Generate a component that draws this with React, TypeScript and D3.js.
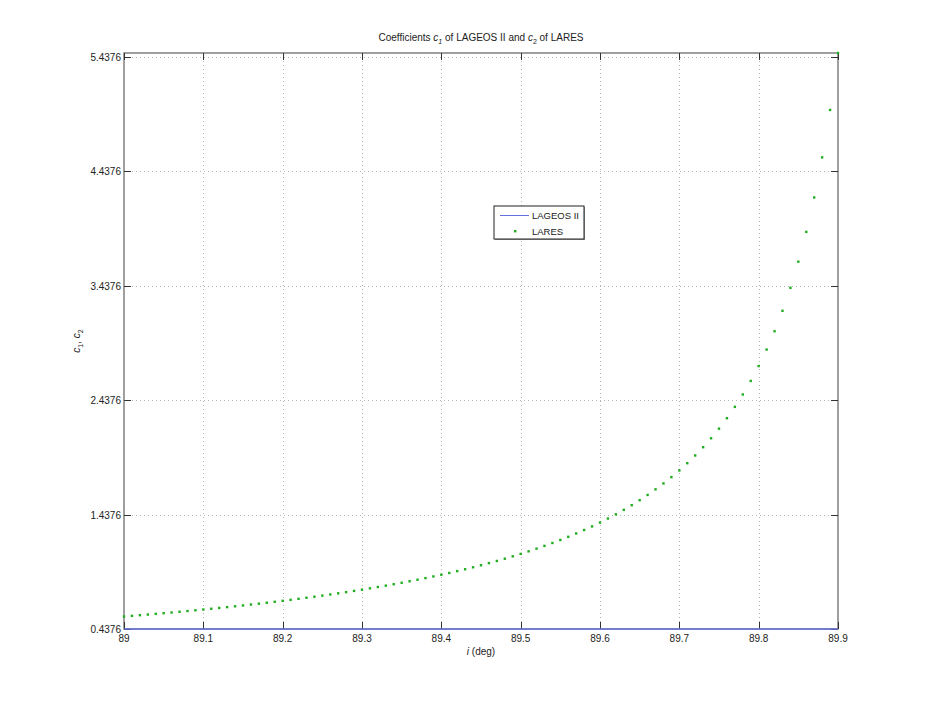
import * as d3 from 'd3'

// inclination (deg) of each LARES sample
const inclinations: number[] = [
  89.0, 89.01, 89.02, 89.03, 89.04, 89.05, 89.06, 89.07, 89.08, 89.09,
  89.1, 89.11, 89.12, 89.13, 89.14, 89.15, 89.16, 89.17, 89.18, 89.19,
  89.2, 89.21, 89.22, 89.23, 89.24, 89.25, 89.26, 89.27, 89.28, 89.29,
  89.3, 89.31, 89.32, 89.33, 89.34, 89.35, 89.36, 89.37, 89.38, 89.39,
  89.4, 89.41, 89.42, 89.43, 89.44, 89.45, 89.46, 89.47, 89.48, 89.49,
  89.5, 89.51, 89.52, 89.53, 89.54, 89.55, 89.56, 89.57, 89.58, 89.59,
  89.6, 89.61, 89.62, 89.63, 89.64, 89.65, 89.66, 89.67, 89.68, 89.69,
  89.7, 89.71, 89.72, 89.73, 89.74, 89.75, 89.76, 89.77, 89.78, 89.79,
  89.8, 89.81, 89.82, 89.83, 89.84, 89.85, 89.86, 89.87, 89.88, 89.89,
  89.9,
]

// c2 of LARES
const laresC2: number[] = [
  0.547, 0.5525, 0.5582, 0.5639, 0.5698, 0.5758, 0.5819, 0.5882, 0.5946, 0.6011,
  0.6078, 0.6146, 0.6216, 0.6287, 0.636, 0.6435, 0.6512, 0.659, 0.6671, 0.6753,
  0.6838, 0.6924, 0.7013, 0.7104, 0.7197, 0.7293, 0.7392, 0.7493, 0.7597, 0.7704,
  0.7814, 0.7928, 0.8044, 0.8164, 0.8288, 0.8415, 0.8547, 0.8683, 0.8823, 0.8967,
  0.9117, 0.9271, 0.9431, 0.9596, 0.9768, 0.9945, 1.013, 1.0321, 1.0519, 1.0725,
  1.094, 1.1163, 1.1396, 1.1638, 1.1891, 1.2156, 1.2432, 1.2721, 1.3024, 1.3341,
  1.3675, 1.4026, 1.4395, 1.4784, 1.5194, 1.5629, 1.6088, 1.6576, 1.7094, 1.7645,
  1.8233, 1.8862, 1.9536, 2.0259, 2.1038, 2.188, 2.2792, 2.3783, 2.4864, 2.6048,
  2.735, 2.8789, 3.0389, 3.2176, 3.4188, 3.6467, 3.9071, 4.2077, 4.5583, 4.9727,
  5.47,
]

// c1 of LAGEOS II (constant)
const lageosX: number[] = [89.0, 89.9]
const lageosC1: number[] = [0.4376, 0.4376]

const xTicks: number[] = [89, 89.1, 89.2, 89.3, 89.4, 89.5, 89.6, 89.7, 89.8, 89.9]
const yTicks: number[] = [0.4376, 1.4376, 2.4376, 3.4376, 4.4376, 5.4376]
const xTickLabels: string[] = ['89', '89.1', '89.2', '89.3', '89.4', '89.5', '89.6', '89.7', '89.8', '89.9']
const yTickLabels: string[] = ['0.4376', '1.4376', '2.4376', '3.4376', '4.4376', '5.4376']

const W = 926
const H = 708
const FONT = '"Liberation Sans", Arial, sans-serif'
const BLUE = '#6470dc'
const GREEN = '#1fae1f'

export default function App() {
  const margin = { left: 124, right: W - 838, top: 53, bottom: H - 629 }
  const x = d3.scaleLinear().domain([89, 89.9]).range([margin.left, W - margin.right])
  const y = d3.scaleLinear().domain([0.4376, 5.47]).range([H - margin.bottom, margin.top])
  const [x0, x1] = x.range()
  const [y0, y1] = y.range()
  const tickLen = 7

  const line = d3.line<number>()
    .x((_, i) => x(lageosX[i]))
    .y(d => y(d))

  const cx = (x0 + x1) / 2

  return (
    <svg width={W} height={H} style={{ position: 'absolute', left: 0, top: 0, background: '#fff' }}
      fontFamily={FONT}>
      <rect x={0} y={0} width={W} height={H} fill="#fff" />

      {/* grid */}
      <g stroke="#b4b4b4" strokeWidth={1} strokeDasharray="1,3">
        {xTicks.slice(1, -1).map(t => (
          <line key={'gx' + t} x1={Math.round(x(t)) + 0.5} x2={Math.round(x(t)) + 0.5} y1={y1} y2={y0} />
        ))}
        {yTicks.slice(1).map(t => (
          <line key={'gy' + t} x1={x0} x2={x1} y1={Math.round(y(t)) + 0.5} y2={Math.round(y(t)) + 0.5} />
        ))}
      </g>

      {/* box */}
      <rect x={x0} y={y1} width={x1 - x0} height={y0 - y1} fill="none" stroke="#808080" strokeWidth={1.5} />

      {/* ticks */}
      <g stroke="#333" strokeWidth={1}>
        {xTicks.map(t => (
          <g key={'tx' + t}>
            <line x1={Math.round(x(t)) + 0.5} x2={Math.round(x(t)) + 0.5} y1={y0} y2={y0 - tickLen} />
            <line x1={Math.round(x(t)) + 0.5} x2={Math.round(x(t)) + 0.5} y1={y1} y2={y1 + tickLen} />
          </g>
        ))}
        {yTicks.map(t => (
          <g key={'ty' + t}>
            <line x1={x0} x2={x0 + tickLen} y1={Math.round(y(t)) + 0.5} y2={Math.round(y(t)) + 0.5} />
            <line x1={x1} x2={x1 - tickLen} y1={Math.round(y(t)) + 0.5} y2={Math.round(y(t)) + 0.5} />
          </g>
        ))}
      </g>

      {/* LAGEOS II line */}
      <path d={line(lageosC1) ?? ''} fill="none" stroke={BLUE} strokeWidth={1.5} />

      {/* LARES points */}
      <g fill={GREEN}>
        {laresC2.map((v, i) => (
          <rect key={'p' + i} x={x(inclinations[i]) - 1.2} y={y(v) - 1.2} width={2.4} height={2.4} />
        ))}
      </g>

      {/* tick labels */}
      <g fontSize={10} fill="#222">
        {xTicks.map((t, i) => (
          <text key={'lx' + t} x={x(t)} y={y0 + 13} textAnchor="middle">{xTickLabels[i]}</text>
        ))}
        {yTicks.map((t, i) => (
          <text key={'ly' + t} x={x0 - 3} y={y(t) + 4} textAnchor="end">{yTickLabels[i]}</text>
        ))}
      </g>

      {/* title */}
      <text x={cx} y={41} textAnchor="middle" fontSize={10} fill="#222">
        {'Coefficients  '}
        <tspan fontStyle="italic">c</tspan>
        <tspan fontStyle="italic" fontSize={7} dy={3}>1</tspan>
        <tspan dy={-3}>{' of LAGEOS II and  '}</tspan>
        <tspan fontStyle="italic">c</tspan>
        <tspan fontSize={7} dy={3}>2</tspan>
        <tspan dy={-3}>{' of LARES'}</tspan>
      </text>

      {/* x label */}
      <text x={cx} y={655} textAnchor="middle" fontSize={10} fill="#222">
        <tspan fontStyle="italic">i</tspan>
        {' (deg)'}
      </text>

      {/* y label */}
      <text transform={`translate(80,${(y0 + y1) / 2}) rotate(-90)`} textAnchor="middle" fontSize={10} fill="#222">
        <tspan fontStyle="italic">c</tspan>
        <tspan fontSize={7} dy={3}>1</tspan>
        <tspan dy={-3}>{', '}</tspan>
        <tspan fontStyle="italic">c</tspan>
        <tspan fontSize={7} dy={3}>2</tspan>
      </text>

      {/* legend */}
      <g>
        <rect x={495} y={207} width={90} height={33} fill="#999" />
        <rect x={494} y={206} width={90} height={33} fill="#fff" stroke="#222" strokeWidth={1} />
        <line x1={500} x2={529} y1={215.5} y2={215.5} stroke={BLUE} strokeWidth={1} />
        <text x={532} y={219} fontSize={9.5} fill="#222">LAGEOS II</text>
        <rect x={514} y={230} width={2.4} height={2.4} fill={GREEN} />
        <text x={532} y={235} fontSize={9.5} fill="#222">LARES</text>
      </g>
    </svg>
  )
}
